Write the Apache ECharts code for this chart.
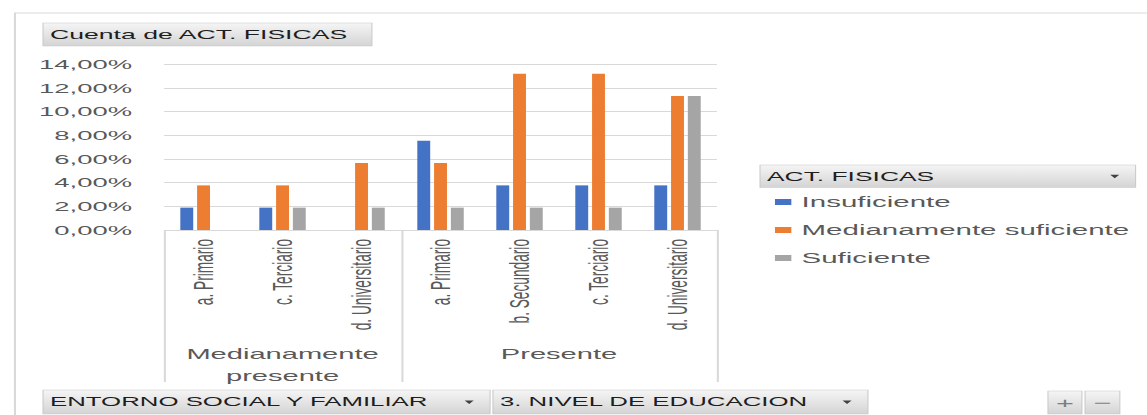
<!DOCTYPE html>
<html>
<head>
<meta charset="utf-8">
<title>Cuenta de ACT. FISICAS</title>
<script src="https://cdn.jsdelivr.net/npm/echarts@6/dist/echarts.min.js"></script>
<style>
  html, body { margin: 0; padding: 0; background: #ffffff; overflow: hidden; }
  #wrap { width: 1147px; height: 415px; overflow: hidden; }
  /* the chart is laid out on a narrow canvas and widened horizontally */
  #chart { width: 560px; height: 415px; transform: scaleX(2.048); transform-origin: 0 0; }
</style>
</head>
<body>
<div id="wrap"><div id="chart"></div></div>
<script>
// Education level per group
const categories = ['a. Primario', 'c. Terciario', 'd. Universitario',
                    'a. Primario', 'b. Secundario', 'c. Terciario', 'd. Universitario'];
// Outer grouping (ENTORNO SOCIAL Y FAMILIAR) and how many levels each holds
const groups = ['Medianamente\npresente', 'Presente'];
const groupSizes = [3, 4];
// Share of the total count, in percent
const insuficiente = [1.89, 1.89, null, 7.55, 3.77, 3.77, 3.77];
const medianamente = [3.77, 3.77, 5.66, 5.66, 13.21, 13.21, 11.32];
const suficiente   = [null, 1.89, 1.89, 1.89, 1.89, 1.89, 11.32];
const seriesNames = ['Insuficiente', 'Medianamente suficiente', 'Suficiente'];
const yMax = 14, yStep = 2;

const colors = ['#4472C4', '#ED7D31', '#A5A5A5'];
const grey = '#595959';
const lineGrey = '#d9d9d9';
const font = "'Liberation Sans', Arial, sans-serif";

// group boundaries and centres on a 0..n scale
const bounds = [0];
groupSizes.forEach(n => bounds.push(bounds[bounds.length - 1] + n));
const centres = groupSizes.map((n, i) => bounds[i] + n / 2);

const chart = echarts.init(document.getElementById('chart'), null, { renderer: 'svg' });

const btnFill = {
  type: 'linear', x: 0, y: 0, x2: 0, y2: 1,
  colorStops: [{ offset: 0, color: '#f5f5f5' }, { offset: 1, color: '#d4d4d4' }]
};

function button(x, y, w, h, label, size, withArrow) {
  const children = [
    { type: 'rect', shape: { x: x, y: y, width: w, height: h },
      style: { fill: btnFill, stroke: '#c8c8c8', lineWidth: 0.5 } },
    { type: 'text', x: x + 3.4, y: y + h / 2,
      style: { text: label, fill: '#1e1e1e', font: size + 'px ' + font, verticalAlign: 'middle' } }
  ];
  if (withArrow) {
    const ax = x + w - 10.2, ay = y + h / 2;
    children.push({ type: 'polygon',
      shape: { points: [[ax - 2.2, ay - 1.5], [ax + 2.2, ay - 1.5], [ax, ay + 2]] },
      style: { fill: '#404040' } });
  }
  return { type: 'group', children: children };
}

function smallButton(x, y, w, h, sign) {
  return { type: 'group', children: [
    { type: 'rect', shape: { x: x, y: y, width: w, height: h },
      style: { fill: btnFill, stroke: '#c8c8c8', lineWidth: 0.5 } },
    { type: 'text', x: x + w / 2, y: y + h / 2,
      style: { text: sign, fill: '#7f7f7f', font: '15px ' + font, align: 'center', verticalAlign: 'middle' } }
  ] };
}

const option = {
  animation: false,
  backgroundColor: '#ffffff',
  color: colors,
  grid: { left: 80.1, right: 209.9, top: 64.3, bottom: 185, containLabel: false },
  legend: {
    orient: 'vertical', left: 378.4, top: 194, padding: 0,
    itemWidth: 8, itemHeight: 6, itemGap: 12, icon: 'rect',
    textStyle: { color: grey, fontSize: 14.4, fontFamily: font, lineHeight: 16 },
    data: seriesNames
  },
  xAxis: [
    {
      type: 'category', data: categories, position: 'bottom',
      axisLine: { show: false }, axisTick: { show: false },
      axisLabel: { rotate: 90, interval: 0, margin: 9, color: grey, fontSize: 13.7, fontFamily: font }
    },
    {
      // group separators
      type: 'value', min: 0, max: bounds[bounds.length - 1], position: 'bottom',
      axisLine: { show: false }, splitLine: { show: false },
      axisLabel: { show: false },
      axisTick: { show: true, customValues: bounds, length: 152, lineStyle: { color: lineGrey, width: 1 } }
    },
    {
      // group names
      type: 'value', min: 0, max: bounds[bounds.length - 1], position: 'bottom',
      axisLine: { show: false }, splitLine: { show: false }, axisTick: { show: false },
      axisLabel: {
        customValues: centres, margin: 113, color: grey, fontSize: 14.2, fontFamily: font,
        lineHeight: 22, verticalAlign: 'top',
        formatter: v => { const i = centres.indexOf(v); return i >= 0 ? groups[i] : ''; }
      }
    }
  ],
  yAxis: {
    type: 'value', min: 0, max: yMax, interval: yStep,
    axisLine: { show: false }, axisTick: { show: false },
    splitLine: { lineStyle: { color: lineGrey, width: 1 } },
    axisLabel: {
      margin: 15.6, color: grey, fontSize: 13.4, fontFamily: font,
      formatter: v => v.toFixed(2).replace('.', ',') + '%'
    }
  },
  series: [insuficiente, medianamente, suficiente].map((d, i) => ({
    name: seriesNames[i], type: 'bar', data: d,
    barWidth: 6.3, barGap: '30%'
  })),
  graphic: [
    // chart frame
    { type: 'rect', silent: true, z: -10,
      shape: { x: 7.3, y: 13, width: 600, height: 500 },
      style: { fill: 'none', stroke: lineGrey, lineWidth: 1 } },
    button(21, 23, 160.6, 23, 'Cuenta de ACT. FISICAS', 13.0, false),
    button(371.1, 165, 183.4, 22.5, 'ACT. FISICAS', 12.9, true),
    button(21, 390, 218.3, 24, 'ENTORNO SOCIAL Y FAMILIAR', 12.6, true),
    button(240.7, 390, 183.1, 24, '3. NIVEL DE EDUCACION', 12.6, true),
    smallButton(511.7, 391, 16.6, 23, '+'),
    smallButton(529.8, 391, 17, 23, '\u2212')
  ]
};

chart.setOption(option);
</script>
</body>
</html>
